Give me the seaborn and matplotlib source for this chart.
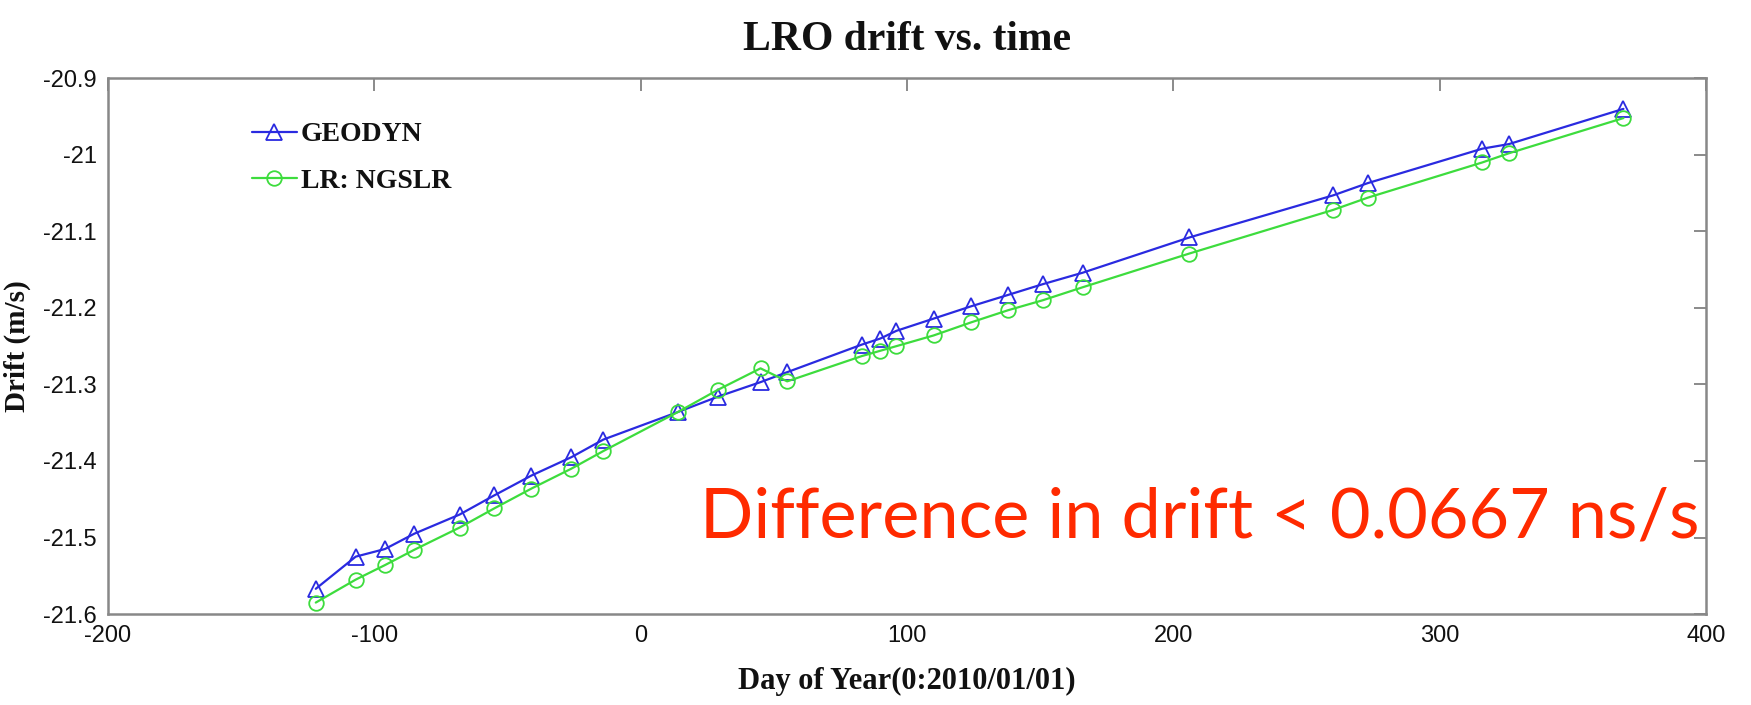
import matplotlib
matplotlib.use("Agg")
import matplotlib.pyplot as plt
from matplotlib.ticker import FuncFormatter
import seaborn as sns
import pandas as pd

# Day of year (0 = 2010/01/01) for each tracking pass
days = [-122, -107, -96, -85, -68, -55, -41, -26, -14, 14, 29, 45, 55,
        83, 90, 96, 110, 124, 138, 151, 166, 206, 260, 273, 316, 326, 369]
# Clock drift estimates (m/s)
geodyn = [-21.567, -21.525, -21.515, -21.495, -21.470, -21.445, -21.419,
          -21.395, -21.372, -21.336, -21.316, -21.297, -21.284, -21.248,
          -21.240, -21.230, -21.214, -21.198, -21.183, -21.169, -21.154,
          -21.108, -21.053, -21.037, -20.992, -20.986, -20.940]
ngslr = [-21.585, -21.555, -21.536, -21.516, -21.487, -21.462, -21.436,
         -21.410, -21.387, -21.336, -21.307, -21.279, -21.296, -21.263,
         -21.256, -21.250, -21.236, -21.219, -21.203, -21.190, -21.173,
         -21.129, -21.072, -21.056, -21.010, -20.998, -20.952]
series_names = ["GEODYN", "LR: NGSLR"]
x_ticks = [-200, -100, 0, 100, 200, 300, 400]
y_ticks = [-21.6, -21.5, -21.4, -21.3, -21.2, -21.1, -21.0, -20.9]

df = pd.DataFrame({"day": days, series_names[0]: geodyn, series_names[1]: ngslr})

sns.set_theme(style="white")
plt.rcParams["font.family"] = ["Liberation Sans", "DejaVu Sans"]

fig = plt.figure(figsize=(17.51, 7.05), dpi=100)
ax = fig.add_axes([0.0617, 0.129, 0.9126, 0.760])

blue = "#2a2ae0"
green = "#3ddc3d"
sns.lineplot(data=df, x="day", y=series_names[0], ax=ax, color=blue, lw=1.6,
             marker="^", markersize=11, markerfacecolor="none",
             markeredgecolor=blue, markeredgewidth=1.3, label=series_names[0])
sns.lineplot(data=df, x="day", y=series_names[1], ax=ax, color=green, lw=1.6,
             marker="o", markersize=10.5, markerfacecolor="none",
             markeredgecolor=green, markeredgewidth=1.3, label=series_names[1])

ax.set_xlim(-200, 400)
ax.set_ylim(-21.6, -20.9)
ax.set_xticks(x_ticks)
ax.set_yticks(y_ticks)
fmt = FuncFormatter(lambda v, p: "%g" % round(v, 3))
ax.xaxis.set_major_formatter(fmt)
ax.yaxis.set_major_formatter(fmt)
ax.tick_params(direction="in", length=9, width=1.2, color="#777777",
               top=True, right=True, labelsize=17, pad=8, labelcolor="#111111")
for s in ax.spines.values():
    s.set_visible(True)
    s.set_color("#888888")
    s.set_linewidth(1.8)

serif = ["Liberation Serif", "DejaVu Serif"]
ax.set_title("LRO drift vs. time", family=serif, fontweight="bold",
             fontsize=30, pad=20, color="#111111")
ax.set_xlabel("Day of Year(0:2010/01/01)", family=serif, fontweight="bold",
              fontsize=22, labelpad=14, color="#111111")
ax.set_ylabel("Drift (m/s)", family=serif, fontweight="bold",
              fontsize=21, labelpad=9, color="#111111")

leg = ax.legend(loc="upper left", bbox_to_anchor=(0.0745, 0.965), frameon=False,
                handlelength=1.6, handletextpad=0.15, labelspacing=0.75,
                prop={"family": serif, "weight": "bold", "size": 20})
for t in leg.get_texts():
    t.set_color("#111111")

fig.text(0.400, 0.237, "Difference in drift < 0.0667 ns/s", color="#ff2a00",
         fontsize=50.6, family=["Lato", "DejaVu Sans"], va="baseline", ha="left")

fig.savefig("out.png", dpi=100, facecolor="white")
